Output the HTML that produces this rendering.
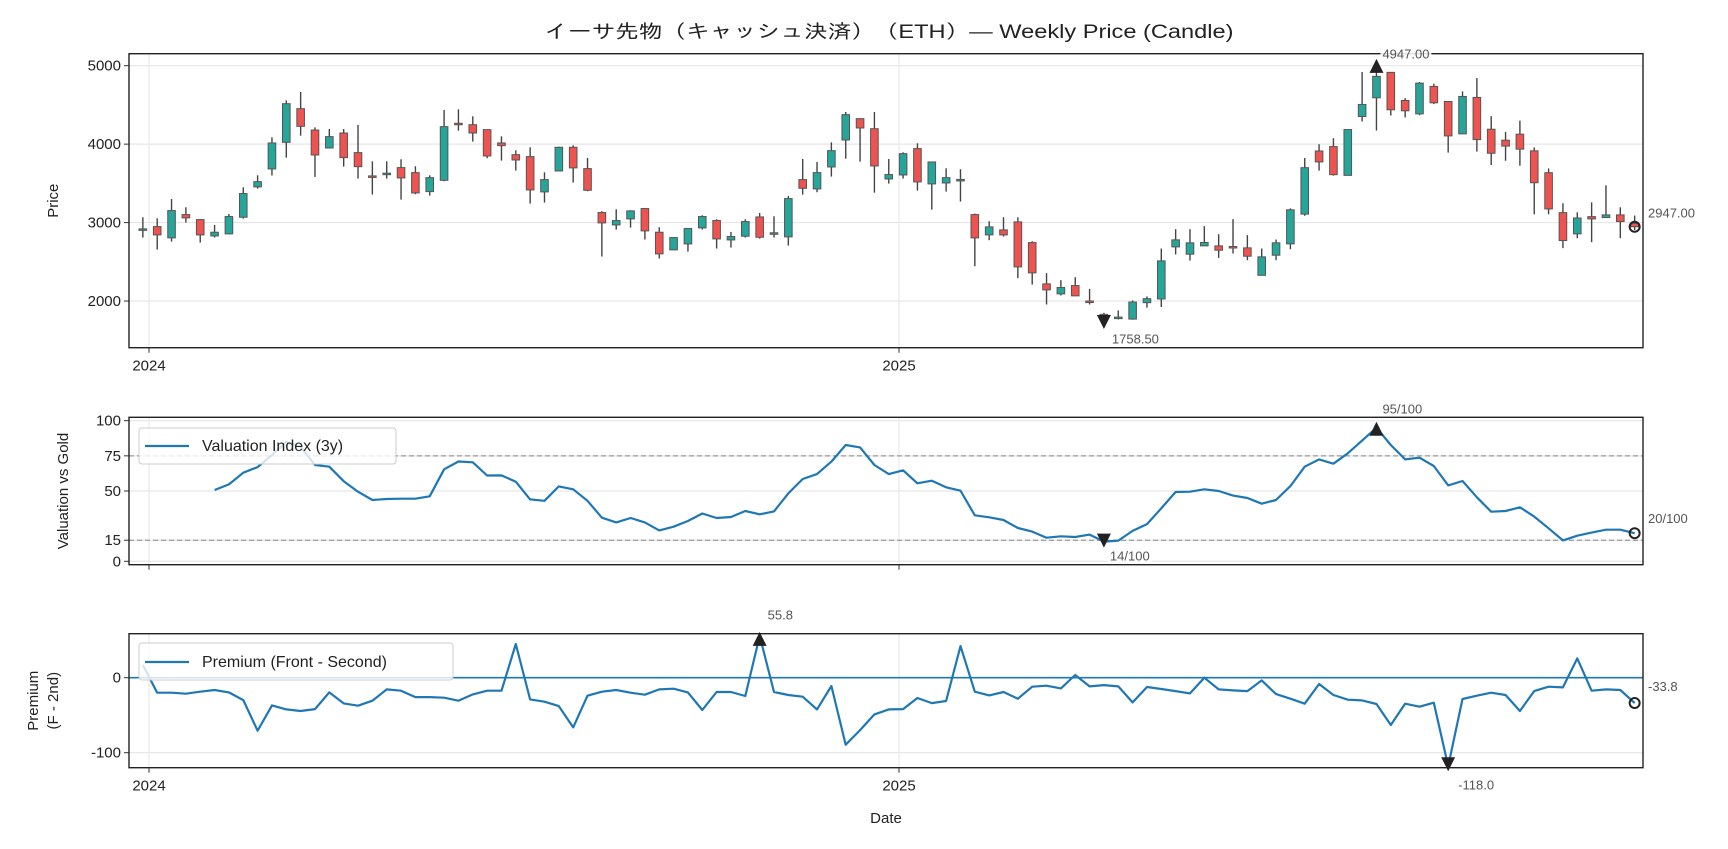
<!DOCTYPE html>
<html><head><meta charset="utf-8"><style>
html,body{margin:0;padding:0;background:#fff}
svg{display:block}
text{font-family:"Liberation Sans","IPAGothic","Noto Sans CJK JP",sans-serif}
</style></head><body>
<svg id="chart" width="1728" height="849" viewBox="0 0 1728 849" xmlns="http://www.w3.org/2000/svg">
<text x="889" y="38" font-size="19" text-anchor="middle" fill="#222" textLength="689" lengthAdjust="spacingAndGlyphs">イーサ先物（キャッシュ決済）（ETH）— Weekly Price (Candle)</text>
<g id="g"></g>
</svg>
<script>
const startDate = "2023-12-29";
const opens = [2910,2949,2805,3102,3038,2830,2856,3068,3455,3684,4023,4452,4180,3951,4142,3892,3595,3620,3701,3637,3395,3539,4266,4248,4185,4015,3866,3841,3391,3658,3960,3688,3128,2970,3047,3179,2877,2652,2728,2932,3026,2779,2826,3072,2865,2818,3548,3429,3709,4053,4325,4197,3556,3607,3943,3493,3505,3548,3102,2843,2907,3009,2745,2219,2091,2197,2000,1830,1790,1770,1979,2026,2690,2597,2703,2703,2695,2678,2328,2584,2729,3108,3913,3969,3602,4352,4591,4915,4557,4386,4736,4544,4131,4595,4190,4051,4127,3915,3636,3127,2856,3076,3064,3098,2990];
const highs = [3068,3055,3302,3195,3040,2970,3110,3450,3603,4087,4558,4665,4214,4193,4193,4244,3781,3781,3807,3718,3603,4435,4444,4355,4185,4100,3922,3960,3641,3968,3985,3824,3145,3170,3157,3187,2941,2809,2924,3094,3043,2881,3043,3123,3081,3340,3811,3773,4023,4410,4325,4410,3811,3896,4011,3773,3692,3680,3115,3017,3068,3068,2762,2355,2266,2304,2155,1850,1880,2008,2059,2669,2916,2916,2955,2852,3044,2840,2669,2784,3181,3824,3999,4075,4186,4919,4947,4915,4587,4791,4770,4544,4672,4842,4357,4157,4300,3958,3691,3246,3131,3258,3475,3195,3090];
const lows = [2809,2656,2758,3000,2745,2809,2850,3051,3433,3600,3828,4108,3582,3951,3713,3561,3357,3561,3293,3361,3344,3527,4172,4032,3820,3790,3663,3242,3255,3658,3510,3399,2567,2911,2936,2784,2542,2652,2630,2911,2669,2682,2809,2796,2809,2707,3357,3387,3586,3815,3777,3382,3497,3561,3408,3166,3395,3268,2444,2775,2822,2291,2210,1956,2070,2066,1956,1758.5,1765,1762,1915,1923,2593,2516,2703,2550,2605,2520,2328,2520,2660,3087,3662,3598,3602,4288,4173,4365,4340,4369,4510,3892,4131,3905,3734,3788,3725,3106,3106,2674,2801,2750,3064,2801,2905];
const closes = [2920,2843,3153,3060,2843,2877,3077,3370,3522,4015,4516,4227,3862,4096,3828,3713,3590,3630,3569,3378,3573,4223,4261,4142,3849,3981,3798,3416,3548,3960,3697,3412,2996,3026,3149,2894,2601,2809,2924,3077,2792,2822,3013,2813,2870,3306,3437,3637,3917,4376,4206,3722,3612,3879,3518,3773,3573,3550,2805,2945,2843,2435,2359,2142,2172,2066,1995,1790,1795,1987,2030,2512,2780,2742,2746,2648,2690,2571,2563,2742,3163,3700,3773,3611,4186,4506,4864,4438,4425,4778,4527,4105,4608,4058,3884,3975,3936,3508,3174,2771,3059,3047,3098,3013,2947];
const valuation = [null,null,null,null,null,50.7,54.7,63,67,75.6,85,81.5,68.5,67.3,57,49.5,43.6,44.3,44.5,44.5,46.2,65.4,71,70.4,61,61.1,56.6,44,43,53.3,51.2,43,31,27.7,30.8,27.7,22,24.6,28.7,34,30.8,31.5,35.8,33.4,35.5,48.3,58.5,62,70.9,82.7,81,68.5,62,64.7,55.5,57.3,52.6,50.2,32.7,31.3,29.4,23.7,21.1,16.8,17.8,17.3,19,14,14.7,21.6,26.5,37.7,49.3,49.5,51.2,50,46.7,45,41,43.6,53.5,67.3,72.5,69.4,76.8,85.8,95,82.7,72.5,73.7,67.8,54,57.1,45.5,35.3,35.8,38.4,31.8,23.5,14.9,18.2,20.4,22.5,22.5,20];
const premium = [16.9,-20,-20,-21.3,-18.7,-16.4,-19.6,-29.8,-70.7,-36.9,-42.2,-44.4,-41.8,-19.6,-34.2,-37.3,-30.7,-15.6,-17.3,-25.8,-25.8,-26.7,-30.7,-22.2,-17.3,-17.3,44.9,-28.9,-32,-37.8,-66.2,-24,-18.7,-16.4,-20,-22.7,-15.6,-14.7,-19.6,-43.1,-19.1,-19.1,-24.4,55.8,-19.1,-23.1,-25.3,-42.2,-11.1,-89.3,-69.8,-48.9,-42.2,-41.8,-27.1,-33.8,-31.1,42.2,-18.7,-23.6,-19.1,-28,-12,-10.7,-14.2,3.6,-11.6,-9.8,-11.6,-32.9,-12.4,-15.1,-17.8,-20.9,0,-15.6,-16.9,-17.8,-3.6,-21.8,-28,-34.7,-8.4,-23.1,-29.3,-30.2,-35.1,-63.1,-34.7,-38.7,-33.3,-118,-28.4,-24,-20,-23.1,-44.4,-17.8,-12,-12.9,25.8,-17.3,-15.6,-16.4,-33.8];
const priceTicks = [2000,3000,4000,5000];
const valTicks = [0,15,50,75,100];
const valRefLines = [15,75];
const premTicks = [-100,0];
const yearTicks = ["2024","2025"];

const NS="http://www.w3.org/2000/svg";
const G=document.getElementById('g');
function mk(tag,attrs,parent){const e=document.createElementNS(NS,tag);for(const k in attrs)e.setAttribute(k,attrs[k]);(parent||G).appendChild(e);return e;}
const L=129,R=1643;
const t2024=Date.UTC(2024,0,1), t2025=Date.UTC(2025,0,1);
function xDate(t){return 149+(t-t2024)/(t2025-t2024)*750;}
const t0=Date.parse(startDate+"T00:00:00Z");
function xi(i){return xDate(t0+i*7*86400000);}
function lin(d0,d1,r0,r1){return v=>r0+(v-d0)/(d1-d0)*(r1-r0);}
const panels={
 price:{top:53.7,bot:347.7,y:lin(1405,5153,347.7,53.7)},
 val:{top:417.3,bot:564.7,y:lin(-2.4,102.4,564.7,417.3)},
 prem:{top:633.7,bot:767.7,y:lin(-120,58.7,767.7,633.7)}
};
const fs=15;
function gridAndAxes(p,ticks,name,showX){
  const g=mk('g',{});
  
  
  yearTicks.forEach(yr=>{const x=xDate(Date.UTC(+yr,0,1));
    const gl=mk('line',{x1:x,x2:x,y1:p.top,y2:p.bot,stroke:'#e6e6e6','stroke-width':1},g);
    
    
    mk('line',{x1:x,x2:x,y1:p.bot,y2:p.bot+5,stroke:'#333','stroke-width':1},g);
    if(showX){const t=mk('text',{x:x,y:p.bot+23,'font-size':fs,'text-anchor':'middle',fill:'#222'},g);t.textContent=yr;
      
      }
  });
  ticks.forEach(v=>{const y=p.y(v);
    const gl=mk('line',{x1:L,x2:R,y1:y,y2:y,stroke:'#e6e6e6','stroke-width':1.2},g);
    
    
    mk('line',{x1:L-5,x2:L,y1:y,y2:y,stroke:'#333','stroke-width':1},g);
    const t=mk('text',{x:L-8,y:y+5,'font-size':fs,'text-anchor':'end',fill:'#222'},g);t.textContent=v;
    
    
  });
  return g;
}
function frame(p,name){const r=mk('rect',{x:L,y:p.top,width:R-L,height:p.bot-p.top,fill:'none',stroke:'#222','stroke-width':1.4});
  
  }
function label(x,y,txt,anchor,name){
  const t=mk('text',{x:x,y:y,'font-size':13,'text-anchor':anchor||'start',fill:'#555'});t.textContent=txt;
  
  
  const b=t.getBBox();
  const r=mk('rect',{x:b.x-2,y:b.y,width:b.width+4,height:b.height,fill:'#fff','fill-opacity':0.85});
  G.insertBefore(r,t);
  return t;
}
function tri(x,y,up,name){const s=7;const pts=up?`${x-s},${y+s} ${x+s},${y+s} ${x},${y-s}`:`${x-s},${y-s} ${x+s},${y-s} ${x},${y+s}`;
  const e=mk('polygon',{points:pts,fill:'#222'});
  
  }
function ring(x,y,name){const e=mk('circle',{cx:x,cy:y,r:5,fill:'none',stroke:'#222','stroke-width':2});
  
  }

// PRICE PANEL
const P=panels.price;
gridAndAxes(P,priceTicks,'price',true);
const cg=mk('g',{});


opens.forEach((o,i)=>{const c=closes[i],x=xi(i);
  const w=mk('line',{x1:x,x2:x,y1:P.y(highs[i]),y2:P.y(lows[i]),stroke:'#444','stroke-width':1.4},cg);
  
  
  const top=P.y(Math.max(o,c)),bot=P.y(Math.min(o,c));
  const b=mk('rect',{x:x-3.8,y:top,width:7.6,height:Math.max(bot-top,1.5),fill:c>=o?'#26a69a':'#ef5350',stroke:'#555','stroke-width':1},cg);
  
  
});
frame(P,'price');
let iMax=highs.indexOf(Math.max(...highs)), iMin=lows.indexOf(Math.min(...lows));
tri(xi(iMax),P.y(highs[iMax])-4,true,'price-max-marker');
label(xi(iMax)+6,P.top+5,Math.max(...highs).toFixed(2),'start','price-max-label');
tri(xi(iMin),P.y(lows[iMin])+2,false,'price-min-marker');
label(xi(iMin)+8,P.bot-4,Math.min(...lows).toFixed(2),'start','price-min-label');
const last=closes.length-1;
ring(xi(last),P.y(closes[last]),'price-last-marker');
label(R+5,P.y(closes[last])-9,closes[last].toFixed(2),'start','price-last-label');
{const t=mk('text',{x:0,y:0,'font-size':fs,'text-anchor':'middle',fill:'#222',transform:`translate(58,${(P.top+P.bot)/2}) rotate(-90)`});t.textContent='Price';

}

// VALUATION PANEL
const V=panels.val;
gridAndAxes(V,valTicks,'valuation',false);
valRefLines.forEach(v=>{const e=mk('line',{x1:L,x2:R,y1:V.y(v),y2:V.y(v),stroke:'#999','stroke-width':1.3,'stroke-dasharray':'5,3'});
  
  });
{let d='';valuation.forEach((v,i)=>{if(v==null)return;d+=(d?'L':'M')+xi(i).toFixed(1)+','+V.y(v).toFixed(1);});
const e=mk('path',{d:d,fill:'none',stroke:'#1f77b4','stroke-width':2.2,'stroke-linejoin':'round'});

}
frame(V,'valuation');
{const vals=valuation.map(v=>v==null?NaN:v);const mx=Math.max(...valuation.filter(v=>v!=null)),mn=Math.min(...valuation.filter(v=>v!=null));
const ia=vals.indexOf(mx),ib=vals.indexOf(mn);
tri(xi(ia),V.y(mx)+1,true,'valuation-max-marker');
label(xi(ia)+6,V.top-4,Math.round(mx)+'/100','start','valuation-max-label');
tri(xi(ib),V.y(mn)-1,false,'valuation-min-marker');
label(xi(ib)+6,V.bot-4,Math.round(mn)+'/100','start','valuation-min-label');
ring(xi(last),V.y(valuation[last]),'valuation-last-marker');
label(R+5,V.y(valuation[last])-10,Math.round(valuation[last])+'/100','start','valuation-last-label');}
{const t=mk('text',{x:0,y:0,'font-size':fs,'text-anchor':'middle',fill:'#222',transform:`translate(68,${(V.top+V.bot)/2}) rotate(-90)`});t.textContent='Valuation vs Gold';

}
{const lg=mk('g',{});
mk('rect',{x:139,y:428,width:257,height:36,rx:3,fill:'#fff','fill-opacity':0.8,stroke:'#ccc'},lg);
mk('line',{x1:145,x2:189,y1:446,y2:446,stroke:'#1f77b4','stroke-width':2.2},lg);
const t=mk('text',{x:202,y:451,'font-size':16,fill:'#222'},lg);t.textContent='Valuation Index (3y)';}

// PREMIUM PANEL
const Q=panels.prem;
gridAndAxes(Q,premTicks,'premium',true);
{const e=mk('line',{x1:L,x2:R,y1:Q.y(0),y2:Q.y(0),stroke:'#1f77b4','stroke-width':1.6});

}
{let d='';premium.forEach((v,i)=>{d+=(i?'L':'M')+xi(i).toFixed(1)+','+Q.y(v).toFixed(1);});
const e=mk('path',{d:d,fill:'none',stroke:'#1f77b4','stroke-width':2.2,'stroke-linejoin':'round'});

}
frame(Q,'premium');
{const mx=Math.max(...premium),mn=Math.min(...premium);const ia=premium.indexOf(mx),ib=premium.indexOf(mn);
tri(xi(ia),Q.y(mx)+3,true,'premium-max-marker');
label(xi(ia)+8,Q.top-14,mx.toFixed(1),'start','premium-max-label');
tri(xi(ib),Q.y(mn)-2,false,'premium-min-marker');
label(xi(ib)+10,Q.bot+22,mn.toFixed(1),'start','premium-min-label');
ring(xi(last),Q.y(premium[last]),'premium-last-marker');
label(R+5,Q.y(premium[last])-12,premium[last].toFixed(1),'start','premium-last-label');}
{const t=mk('text',{x:0,y:0,'font-size':fs,'text-anchor':'middle',fill:'#222',transform:`translate(38,${(Q.top+Q.bot)/2}) rotate(-90)`});t.textContent='Premium';


const t2=mk('text',{x:0,y:0,'font-size':fs,'text-anchor':'middle',fill:'#222',transform:`translate(58,${(Q.top+Q.bot)/2}) rotate(-90)`});t2.textContent='(F - 2nd)';

}
{const lg=mk('g',{});
mk('rect',{x:139,y:643,width:314,height:37,rx:3,fill:'#fff','fill-opacity':0.8,stroke:'#ccc'},lg);
mk('line',{x1:145,x2:189,y1:662,y2:662,stroke:'#1f77b4','stroke-width':2.2},lg);
const t=mk('text',{x:202,y:667,'font-size':16,fill:'#222'},lg);t.textContent='Premium (Front - Second)';}
{const t=mk('text',{x:886,y:823,'font-size':fs,'text-anchor':'middle',fill:'#222'});t.textContent='Date';

}
</script>
</body></html>
